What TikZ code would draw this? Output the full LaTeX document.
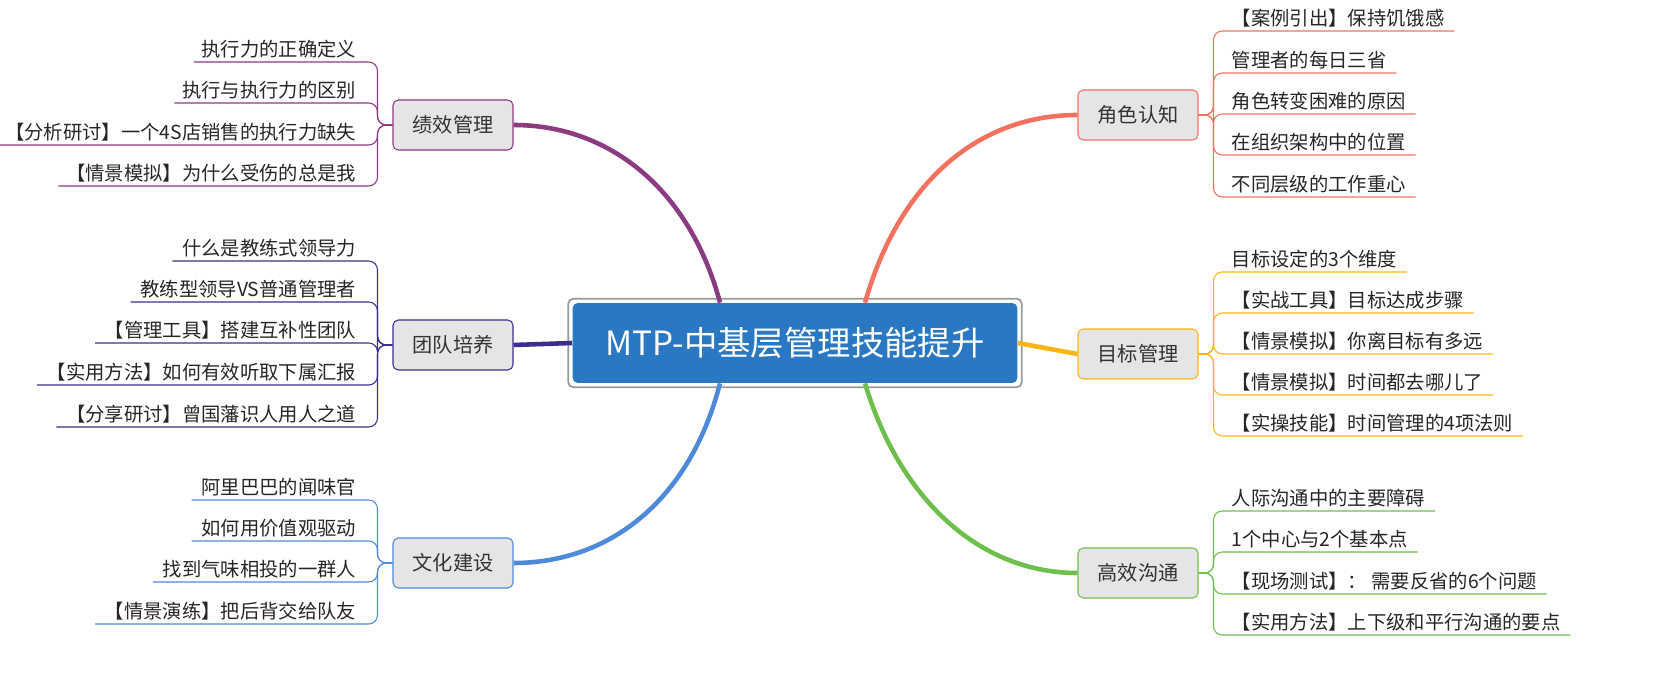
\documentclass[tikz,border=0pt]{standalone}
\usepackage{fontspec}
\setmainfont{Noto Sans CJK SC}
\usetikzlibrary{calc}
\definecolor{cjs}{HTML}{F4715F}
\definecolor{cmb}{HTML}{FDB515}
\definecolor{cgt}{HTML}{6DC04B}
\definecolor{cjx}{HTML}{8C3A82}
\definecolor{ctd}{HTML}{3F2C8E}
\definecolor{cwh}{HTML}{4E8AD9}
\definecolor{cmain}{HTML}{2B78C2}

\begin{document}
\begin{tikzpicture}[x=0.02cm,y=-0.02cm,
  topic/.style={draw=#1,fill=black!10,rounded corners=3pt,minimum width=2.4cm,
    minimum height=1cm,font=\fontsize{11.5}{13}\selectfont,text=black!80,line width=0.6pt},
  leaf/.style={inner sep=2pt,font=\fontsize{11}{13}\selectfont,text=black!85},
  twig/.style={draw=#1,line width=0.6pt,rounded corners=5pt},
  limb/.style={draw=#1,line width=2.6pt}]
  \useasboundingbox (0,0) rectangle (1661,678);
  \node[fill=cmain,text=white,rounded corners=3pt,minimum width=8.9cm,minimum height=1.6cm,
    font=\fontsize{19}{22}\selectfont] (main) at (795,343) {MTP-中基层管理技能提升};
  \draw[black!40,line width=1pt,rounded corners=3pt] ($(main.south west)+(-4,4)$) rectangle ($(main.north east)+(4,-4)$);
  % right topics
  \node[topic=cjs] (js) at (1138,115) {角色认知};
  \node[topic=cmb] (mb) at (1138,354) {目标管理};
  \node[topic=cgt] (gt) at (1138,573) {高效沟通};
  % left topics
  \node[topic=cjx] (jx) at (453,125) {绩效管理};
  \node[topic=ctd] (td) at (453,345) {团队培养};
  \node[topic=cwh] (wh) at (453,563) {文化建设};
  \draw[limb=cjs] ($(main.north)+(70,0)$) .. controls (900,180) and (980,115) .. (js.west);
  \draw[limb=cmb] (main.east) -- (mb.west);
  \draw[limb=cgt] ($(main.south)+(70,0)$) .. controls (900,500) and (980,573) .. (gt.west);
  \draw[limb=cjx] ($(main.north)+(-75,0)$) .. controls (690,190) and (610,125) .. (jx.east);
  \draw[limb=ctd] (main.west) -- (td.east);
  \draw[limb=cwh] ($(main.south)+(-75,0)$) .. controls (690,500) and (610,563) .. (wh.east);
  % right leaves
  \foreach \txt/\y/\n in {{【案例引出】保持饥饿感}/31/a1,{管理者的每日三省}/73/a2,
      {角色转变困难的原因}/114/a3,{在组织架构中的位置}/155/a4,{不同层级的工作重心}/197/a5}{
    \node[leaf,anchor=south west] (\n) at (1228,\y) {\txt};
    \draw[twig=cjs] (js.east) -- ++(15,0) |- ($(\n.south east)+(6,0)$);
  }
  \foreach \txt/\y/\n in {{目标设定的3个维度}/272/b1,{【实战工具】目标达成步骤}/313/b2,
      {【情景模拟】你离目标有多远}/354/b3,{【情景模拟】时间都去哪儿了}/395/b4,
      {【实操技能】时间管理的4项法则}/436/b5}{
    \node[leaf,anchor=south west] (\n) at (1228,\y) {\txt};
    \draw[twig=cmb] (mb.east) -- ++(15,0) |- ($(\n.south east)+(6,0)$);
  }
  \foreach \txt/\y/\n in {{人际沟通中的主要障碍}/511/c1,{1个中心与2个基本点}/552/c2,
      {【现场测试】： 需要反省的6个问题}/594/c3,{【实用方法】上下级和平行沟通的要点}/635/c4}{
    \node[leaf,anchor=south west] (\n) at (1228,\y) {\txt};
    \draw[twig=cgt] (gt.east) -- ++(15,0) |- ($(\n.south east)+(6,0)$);
  }
  % left leaves
  \foreach \txt/\y/\n in {{执行力的正确定义}/62/d1,{执行与执行力的区别}/103/d2,
      {【分析研讨】一个4S店销售的执行力缺失}/145/d3,{【情景模拟】为什么受伤的总是我}/186/d4}{
    \node[leaf,anchor=south east] (\n) at (360,\y) {\txt};
    \draw[twig=cjx] (jx.west) -- ++(-15,0) |- ($(\n.south west)+(-4,0)$);
  }
  \foreach \txt/\y/\n in {{什么是教练式领导力}/261/e1,{教练型领导VS普通管理者}/302/e2,
      {【管理工具】搭建互补性团队}/343/e3,{【实用方法】如何有效听取下属汇报}/385/e4,
      {【分享研讨】曾国藩识人用人之道}/427/e5}{
    \node[leaf,anchor=south east] (\n) at (360,\y) {\txt};
    \draw[twig=ctd] (td.west) -- ++(-15,0) |- ($(\n.south west)+(-6,0)$);
  }
  \foreach \txt/\y/\n in {{阿里巴巴的闻味官}/500/f1,{如何用价值观驱动}/541/f2,
      {找到气味相投的一群人}/582/f3,{【情景演练】把后背交给队友}/624/f4}{
    \node[leaf,anchor=south east] (\n) at (360,\y) {\txt};
    \draw[twig=cwh] (wh.west) -- ++(-15,0) |- ($(\n.south west)+(-6,0)$);
  }
\end{tikzpicture}
\end{document}
